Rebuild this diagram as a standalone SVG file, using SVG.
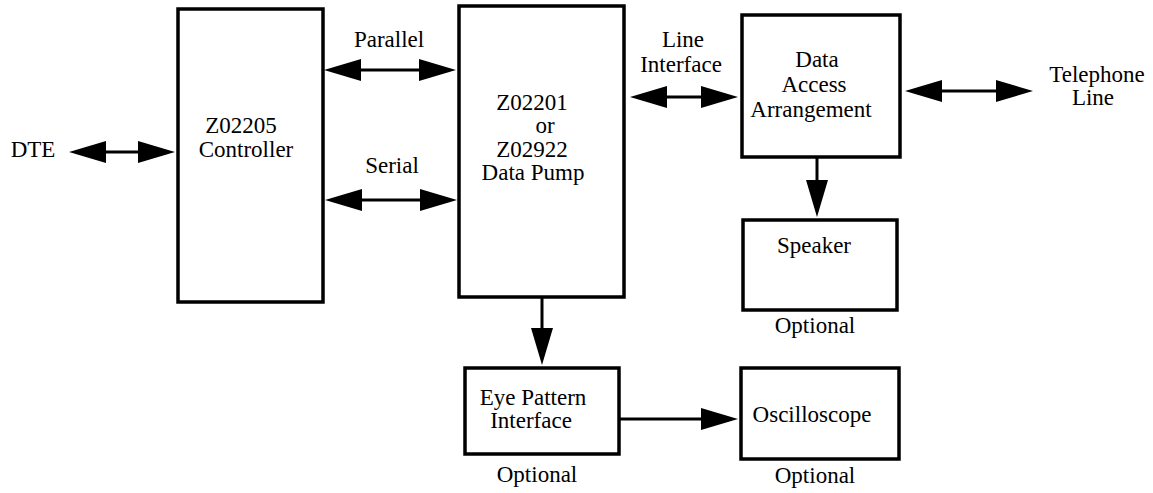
<svg xmlns="http://www.w3.org/2000/svg" width="1153" height="493" viewBox="0 0 1153 493">
<style>
.box{fill:#fff;stroke:#000;stroke-width:3.5}
text{font-family:"Liberation Serif","Times New Roman","DejaVu Serif",serif;font-size:23px;fill:#000;text-anchor:middle}
.c{stroke:#000;stroke-width:3;fill:none}
.both{marker-start:url(#ah);marker-end:url(#ah)}
.one{marker-end:url(#ah)}
</style>
<defs>
<marker id="ah" markerUnits="userSpaceOnUse" markerWidth="37" markerHeight="22" refX="27" refY="11" orient="auto-start-reverse" viewBox="0 0 37 22">
<path d="M0,0 L37,11 L0,22 z" fill="#000"/>
</marker>
</defs>
<rect width="1153" height="493" fill="#fff"/>
<g id="connectors">
<line class="c both" x1="79" y1="152" x2="165" y2="152"/>
<line class="c both" x1="334" y1="70" x2="446" y2="70"/>
<line class="c both" x1="335" y1="200" x2="447" y2="200"/>
<line class="c both" x1="640" y1="97" x2="728" y2="97"/>
<line class="c both" x1="915" y1="91" x2="1023" y2="91"/>
<line class="c one" x1="817" y1="158" x2="817" y2="207"/>
<line class="c one" x1="542" y1="298" x2="542" y2="355"/>
<line class="c one" x1="620" y1="419" x2="728" y2="419"/>
</g>
<g id="dte" font-family="Liberation Serif, serif"><text x="33" y="157">DTE</text></g>
<g id="controller" font-family="Liberation Serif, serif">
<rect class="box" x="178" y="9" width="145" height="293"/>
<text x="241" y="133">Z02205</text>
<text x="246" y="157">Controller</text>
</g>
<g id="label-parallel" font-family="Liberation Serif, serif"><text x="389" y="47">Parallel</text></g>
<g id="label-serial" font-family="Liberation Serif, serif"><text x="392" y="173">Serial</text></g>
<g id="datapump" font-family="Liberation Serif, serif">
<rect class="box" x="459" y="6" width="165" height="291"/>
<text x="532" y="110">Z02201</text>
<text x="545" y="133">or</text>
<text x="532" y="157">Z02922</text>
<text x="533" y="180">Data Pump</text>
</g>
<g id="label-line-interface" font-family="Liberation Serif, serif">
<text x="683" y="47">Line</text>
<text x="681" y="72">Interface</text>
</g>
<g id="daa" font-family="Liberation Serif, serif">
<rect class="box" x="742" y="15" width="158" height="142"/>
<text x="817" y="67">Data</text>
<text x="814" y="92">Access</text>
<text x="811" y="117">Arrangement</text>
</g>
<g id="telephone" font-family="Liberation Serif, serif">
<text x="1097" y="82">Telephone</text>
<text x="1093" y="105">Line</text>
</g>
<g id="speaker" font-family="Liberation Serif, serif">
<rect class="box" x="743" y="220" width="154" height="90"/>
<text x="814" y="253">Speaker</text>
<text x="815" y="333">Optional</text>
</g>
<g id="eyepattern" font-family="Liberation Serif, serif">
<rect class="box" x="465" y="368" width="154" height="86"/>
<text x="533" y="405">Eye Pattern</text>
<text x="531" y="428">Interface</text>
<text x="537" y="482">Optional</text>
</g>
<g id="oscilloscope" font-family="Liberation Serif, serif">
<rect class="box" x="741" y="368" width="158" height="91"/>
<text x="812" y="422">Oscilloscope</text>
<text x="815" y="483">Optional</text>
</g>
</svg>
